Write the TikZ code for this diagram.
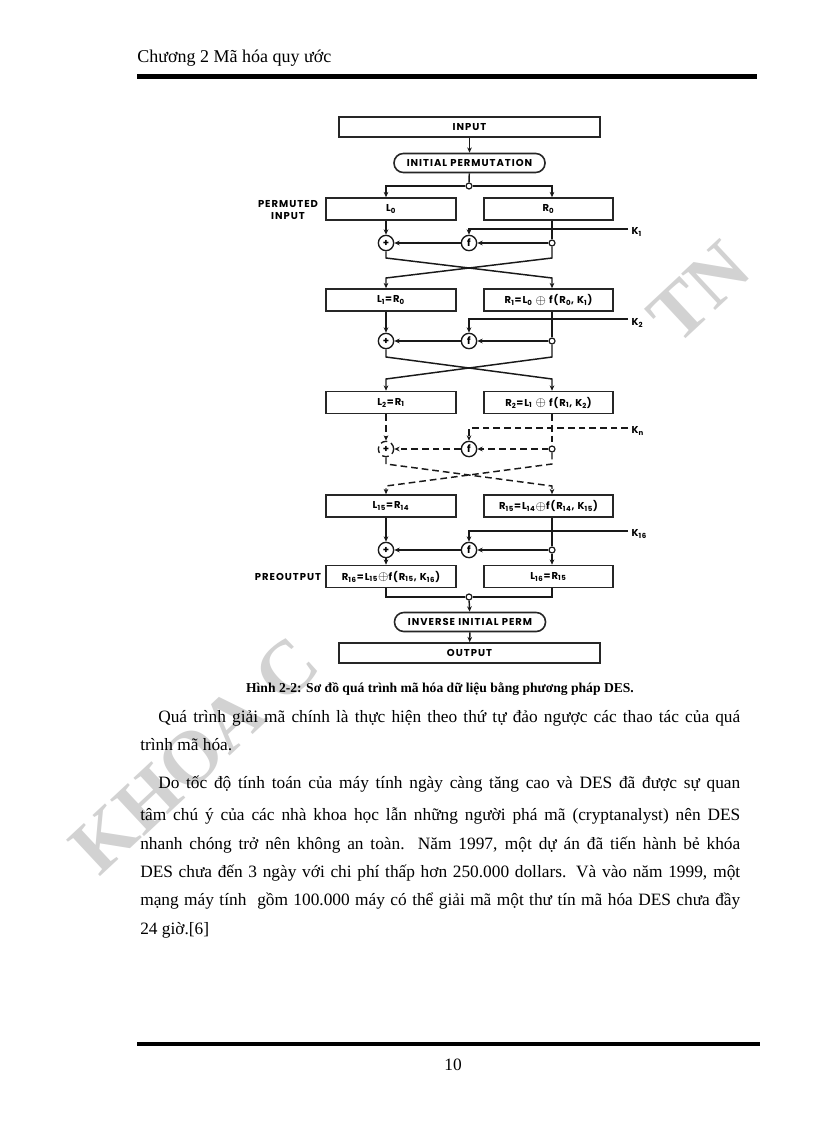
\documentclass[tikz,border=0pt]{standalone}
\usepackage{fontspec}
\setmainfont{Liberation Serif}
\newfontfamily\dfont[LetterSpace=10]{Poppins}
\usetikzlibrary{arrows.meta}
\begin{document}
\begin{tikzpicture}[x=0.75pt,y=-0.75pt,
  lbl/.style={font=\dfont\bfseries\fontsize{7.5}{8.5}\selectfont},
  box/.style={draw=black!85, line width=1.2pt, fill=white, inner sep=0pt, minimum height=16.5pt, lbl},
  lbox/.style={box, minimum width=97.5pt},
  rbox/.style={box, minimum width=96.75pt},
  wbox/.style={box, minimum width=195.75pt, minimum height=15pt},
  pbox/.style={box, rounded corners=7pt, minimum width=113.25pt, minimum height=14.25pt},
  ln/.style={line width=1.1pt, draw=black!90},
  arr/.style={-{Stealth[length=4pt,width=3.5pt]}},
  dsh/.style={dash pattern=on 5pt off 3pt},
  op/.style={circle, draw=black!90, line width=1pt, fill=white, minimum size=11.5pt, inner sep=0pt, lbl},
  jn/.style={circle, draw=black!90, line width=0.9pt, fill=white, minimum size=4.5pt, inner sep=0pt},
  klbl/.style={lbl, anchor=west, inner sep=1pt},
  body/.style={font=\fontsize{13}{15}\selectfont, inner sep=0pt, anchor=base west},
  wm/.style={font=\bfseries\fontsize{57}{57}\selectfont, text=gray!35, inner sep=0pt, rotate=43}
]
\useasboundingbox (0,0) rectangle (816,1123);
\fill[white] (0,0) rectangle (816,1123);

% watermark
\node[wm] (wmA) at (195,755) {KHOA C};
\node[wm] (wmB) at (699,292) {TN};

% header / footer
\node[font=\fontsize{13.5}{16}\selectfont, anchor=base west, inner sep=0pt] (hdr) at (137,63) {Chương 2 Mã hóa quy ước};
\draw[line width=3.75pt] (137,76.5) -- (757,76.5);
\draw[line width=3pt] (137,1044) -- (760,1044);
\node[font=\fontsize{13}{15}\selectfont, inner sep=0pt] (pg) at (453,1065) {10};

% diagram nodes
\node[wbox] (in) at (469.5,127) {INPUT};
\node[pbox] (ip) at (469.5,163) {INITIAL PERMUTATION};
\node[jn] (jip) at (469,186) {};
\node[lbl, align=center, inner sep=0pt] (pin) at (288,210) {PERMUTED\\INPUT};

\node[lbox] (L0) at (391,209) {L\textsubscript{0}};
\node[rbox] (R0) at (548.5,209) {R\textsubscript{0}};
\node[op] (x1) at (386,243) {+};
\node[op] (f1) at (469,243) {f};
\node[jn] (j1) at (552,243) {};
\coordinate (k1) at (628,229);
\node[klbl] (K1) at (630,232) {K\textsubscript{1}};

\node[lbox] (L1) at (391,300) {L\textsubscript{1}=R\textsubscript{0}};
\node[rbox] (R1) at (548.5,300) {R\textsubscript{1}=L\textsubscript{0} \raisebox{-0.6pt}{\fontsize{10}{10}\selectfont$\oplus$} f(R\textsubscript{0}, K\textsubscript{1})};
\node[op] (x2) at (386,341) {+};
\node[op] (f2) at (469,341) {f};
\node[jn] (j2) at (552,341) {};
\coordinate (k2) at (628,319);
\node[klbl] (K2) at (630,323) {K\textsubscript{2}};

\node[lbox] (L2) at (391,402.5) {L\textsubscript{2}=R\textsubscript{1}};
\node[rbox] (R2) at (548.5,402.5) {R\textsubscript{2}=L\textsubscript{1} \raisebox{-0.6pt}{\fontsize{10}{10}\selectfont$\oplus$} f(R\textsubscript{1}, K\textsubscript{2})};
\node[op, dsh] (x3) at (386,449) {+};
\node[op] (f3) at (469,449) {f};
\node[jn] (j3) at (552,449) {};
\coordinate (k3) at (628,428);
\node[klbl] (Kn) at (630,431) {K\textsubscript{n}};

\node[lbox] (L15) at (391,506) {L\textsubscript{15}=R\textsubscript{14}};
\node[rbox] (R15) at (548.5,506) {R\textsubscript{15}=L\textsubscript{14}\raisebox{-0.6pt}{\fontsize{10}{10}\selectfont$\oplus$}f(R\textsubscript{14}, K\textsubscript{15})};
\node[op] (x4) at (386,550) {+};
\node[op] (f4) at (469,550) {f};
\node[jn] (j4) at (552,550) {};
\coordinate (k4) at (628,531);
\node[klbl] (K16) at (630,534) {K\textsubscript{16}};

\node[lbl, inner sep=0pt] (pout) at (288,577) {PREOUTPUT};
\node[lbox] (R16) at (391,576.5) {R\textsubscript{16}=L\textsubscript{15}\raisebox{-0.6pt}{\fontsize{10}{10}\selectfont$\oplus$}f(R\textsubscript{15}, K\textsubscript{16})};
\node[rbox] (L16) at (548.5,576.5) {L\textsubscript{16}=R\textsubscript{15}};
\node[jn] (jo) at (469,597) {};
\node[pbox] (iip) at (470,622) {INVERSE INITIAL PERM};
\node[wbox] (out) at (469.5,653) {OUTPUT};

% connectors
\draw[ln,arr] (in) -- (ip);
\draw[ln] (ip) -- (jip);
\draw[ln,arr] (jip) -| (L0.north -| x1);
\draw[ln,arr] (jip) -| (R0.north -| j1);

\draw[ln,arr] (L0.south -| x1) -- (x1);
\draw[ln] (R0.south -| j1) -- (j1);
\draw[ln,arr] (k1) -| (f1);
\draw[ln,arr] (j1) -- (f1);
\draw[ln,arr] (f1) -- (x1);
\draw[ln,arr] (x1) -- (386,258) -- (552,278) -- (R1.north -| j1);
\draw[ln,arr] (j1) -- (552,258) -- (386,278) -- (L1.north -| x1);

\draw[ln,arr] (L1.south -| x2) -- (x2);
\draw[ln] (R1.south -| j2) -- (j2);
\draw[ln,arr] (k2) -| (f2);
\draw[ln,arr] (j2) -- (f2);
\draw[ln,arr] (f2) -- (x2);
\draw[ln,arr] (x2) -- (386,357) -- (552,379) -- (R2.north -| j2);
\draw[ln,arr] (j2) -- (552,357) -- (386,379) -- (L2.north -| x2);

\draw[ln,dsh,arr] (L2.south -| x3) -- (x3);
\draw[ln,dsh] (R2.south -| j3) -- (j3);
\draw[ln,dsh,arr] (k3) -| (f3);
\draw[ln,dsh,arr] (j3) -- (f3);
\draw[ln,dsh,arr] (f3) -- (x3);
\draw[ln,dsh,arr] (x3) -- (386,464) -- (552,486) -- (R15.north -| j3);
\draw[ln,dsh,arr] (j3) -- (552,464) -- (386,486) -- (L15.north -| x3);

\draw[ln,arr] (L15.south -| x4) -- (x4);
\draw[ln] (R15.south -| j4) -- (j4);
\draw[ln,arr] (k4) -| (f4);
\draw[ln,arr] (j4) -- (f4);
\draw[ln,arr] (f4) -- (x4);
\draw[ln,arr] (x4) -- (R16.north -| x4);
\draw[ln,arr] (j4) -- (L16.north -| j4);
\draw[ln] (R16.south -| x4) |- (jo);
\draw[ln] (L16.south -| j4) |- (jo);
\draw[ln,arr] (jo) -- (iip);
\draw[ln,arr] (iip) -- (out);

% caption and body
\node[font=\bfseries\fontsize{10.2}{12}\selectfont, inner sep=0pt] (cap) at (440,689) {Hình 2-2: Sơ đồ quá trình mã hóa dữ liệu bằng phương pháp DES.};
\node[body] (b1) at (158,722) {\makebox[436.5pt][s]{Quá trình giải mã chính là thực hiện theo thứ tự đảo ngược các thao tác của quá}};
\node[body] (b2) at (140,750) {trình mã hóa.};
\node[body] (b3) at (158,788) {\makebox[436.5pt][s]{Do tốc độ tính toán của máy tính ngày càng tăng cao và DES đã được sự quan}};
\node[body] (b4) at (140,820) {\makebox[450pt][s]{tâm chú ý của các nhà khoa học lẫn những người phá mã (cryptanalyst) nên DES}};
\node[body] (b5) at (140,849) {\makebox[450pt][s]{nhanh chóng trở nên không an toàn. Năm 1997, một dự án đã tiến hành bẻ khóa}};
\node[body] (b6) at (140,877) {\makebox[450pt][s]{DES chưa đến 3 ngày với chi phí thấp hơn 250.000 dollars. Và vào năm 1999, một}};
\node[body] (b7) at (140,905) {\makebox[450pt][s]{mạng máy tính \ gồm 100.000 máy có thể giải mã một thư tín mã hóa DES chưa đầy}};
\node[body] (b8) at (140,934) {24 giờ.[6]};
\end{tikzpicture}
\end{document}
